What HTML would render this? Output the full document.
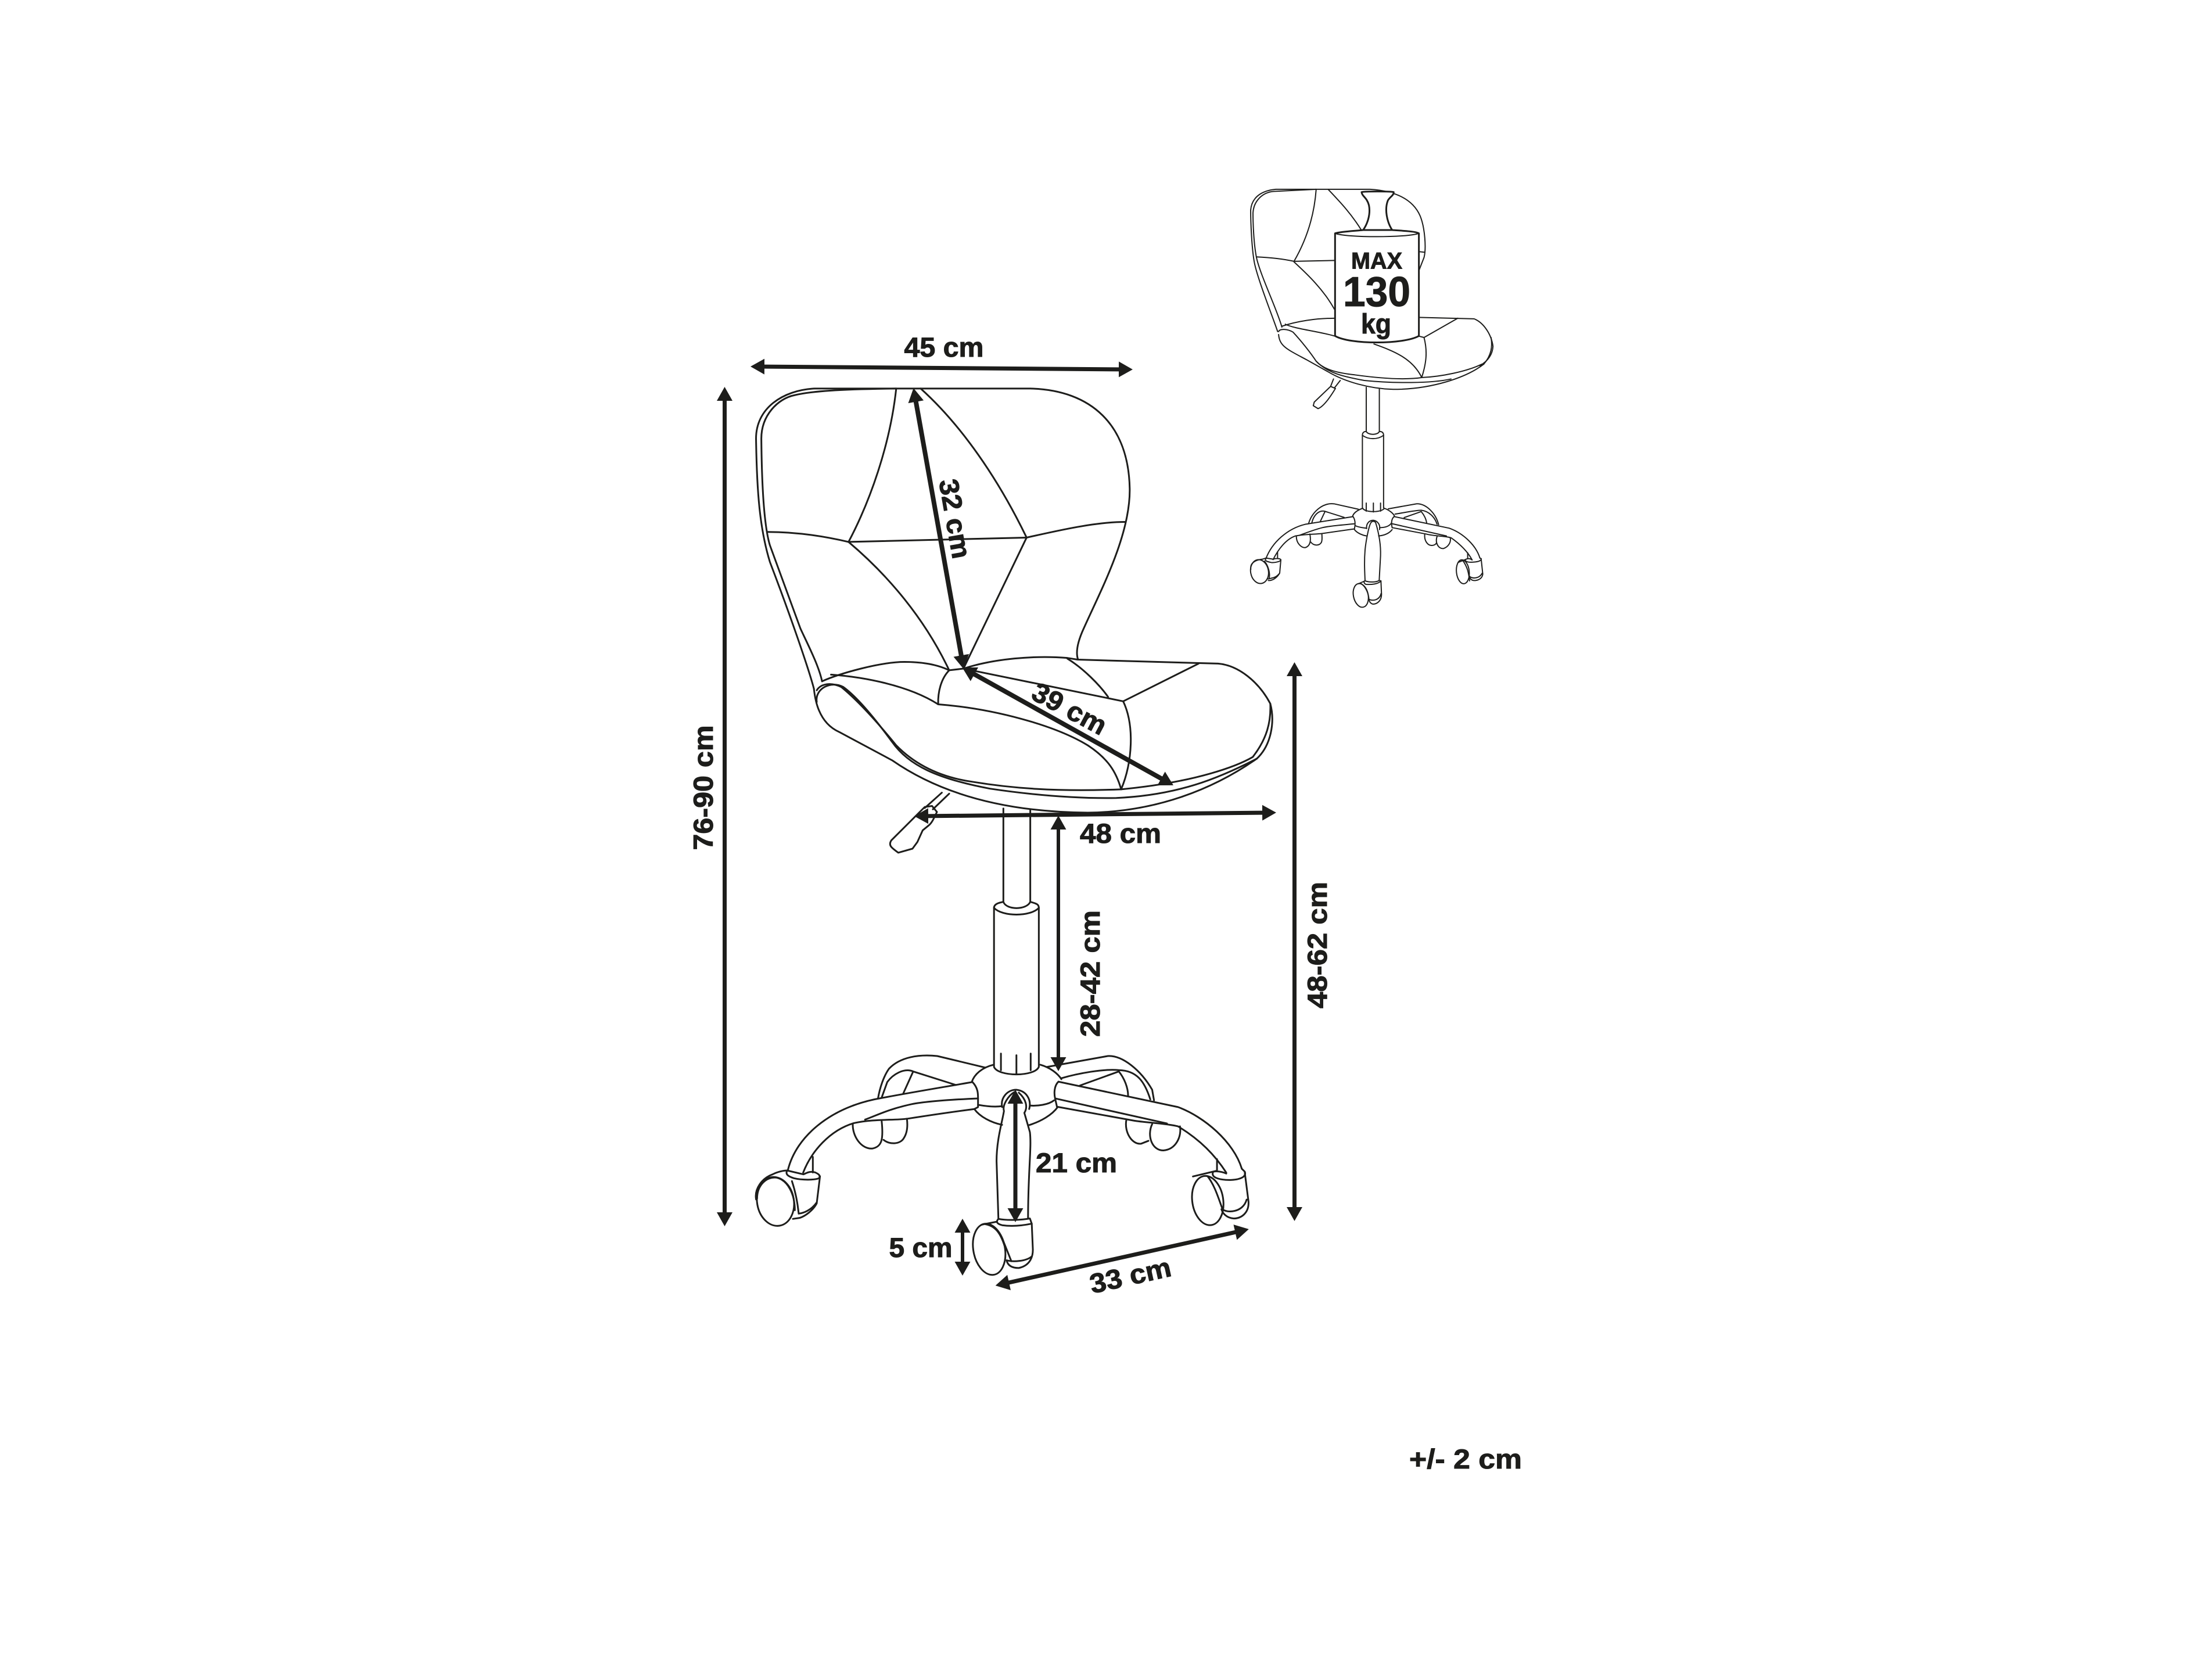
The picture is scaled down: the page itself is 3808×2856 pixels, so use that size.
<!DOCTYPE html>
<html><head><meta charset="utf-8"><style>
html,body{margin:0;padding:0;background:#fff}
svg{display:block}
.l *{fill:none;vector-effect:non-scaling-stroke;stroke-linecap:round;stroke-linejoin:round}
.t{font-family:"Liberation Sans",sans-serif;font-weight:700;fill:#1d1d1b;stroke:#1d1d1b;stroke-width:1;text-anchor:middle}
</style></head><body>
<svg width="3808" height="2856" viewBox="0 0 3808 2856" xmlns="http://www.w3.org/2000/svg">
<defs><marker id="a" markerUnits="userSpaceOnUse" markerWidth="32" markerHeight="32" viewBox="0 -16 32 32" refX="16" refY="0" orient="auto-start-reverse"><path d="M0,-13.5 L24,0 L0,13.5 Z" fill="#1d1d1b"/></marker></defs>
<rect width="3808" height="2856" fill="#fff"/>

<g class="l" stroke="#1d1d1b" stroke-width="3" transform="translate(1150 600) scale(.7015 .574)">
<path d="M358,1020 C345,960 300,800 250,640 C225,540 218,430 216,270 C216,180 280,125 360,120 L890,120 C1040,125 1130,230 1133,420 C1135,560 1060,730 1020,840 C1005,880 1000,910 1006,932"/>
<path d="M378,998 C370,950 340,880 325,840 L250,590 C235,530 230,400 229,270 C229,200 270,150 310,140 C350,128 420,122 560,120"/>
<path d="M560,120 C545,290 495,460 443,580"/>
<path d="M620,120 C720,230 810,390 880,567"/>
<path d="M443,580 L880,567"/>
<path d="M245,550 C310,550 380,562 443,580"/>
<path d="M880,567 C960,545 1050,520 1122,520"/>
<path d="M443,580 C540,680 630,810 690,965"/>
<path d="M880,567 L725,960 L690,965"/>
<path d="M378,998 C420,975 520,940 580,940 C630,940 665,950 690,965"/>
<path d="M725,960 C800,930 900,920 980,928 L1005,933 L1350,945 C1400,950 1450,1000 1478,1065 C1480,1120 1470,1170 1435,1225 C1400,1250 1300,1300 1112,1322 C950,1330 840,1318 750,1300 C660,1285 600,1240 560,1190 C520,1130 470,1060 425,1015 C400,1000 375,1005 365,1025"/>
<path d="M400,978 C480,985 590,1010 663,1067"/>
<path d="M690,965 C670,990 662,1030 663,1067"/>
<path d="M663,1067 C800,1080 950,1130 1030,1190 C1080,1230 1100,1270 1112,1322"/>
<path d="M725,960 L1117,1058"/>
<path d="M980,930 C1020,960 1060,1010 1080,1045"/>
<path d="M1117,1058 L1302,945"/>
<path d="M1117,1058 C1145,1130 1140,1240 1112,1322"/>
<path d="M358,1020 C360,1040 365,1120 420,1150 L550,1235 C650,1320 800,1390 1030,1392 C1200,1390 1340,1320 1445,1230"/>
<path d="M365,1060 C360,1020 400,995 430,1015 C470,1050 520,1130 550,1180 C590,1250 660,1290 790,1320 C900,1340 1000,1350 1100,1348 C1250,1340 1350,1290 1445,1230 C1480,1190 1490,1120 1478,1065"/>
<path d="M690,1335 L650,1382 M672,1332 L630,1378"/>
<path d="M630,1375 L548,1475 C540,1490 548,1497 565,1512 L600,1500 L612,1480 L625,1445 L640,1430 C650,1420 655,1400 660,1390 L648,1372 Z"/>
</g>

<g class="l" stroke="#1d1d1b" stroke-width="3" transform="translate(1150 1300) scale(.7015 .574)">
<path d="M823,160 L823,440 C830,465 880,465 889,440 L889,165"/>
<path d="M800,458 C800,445 815,442 823,440 M889,440 C905,445 910,448 910,458"/>
<path d="M800,458 C820,485 890,485 910,458"/>
<path d="M800,458 L800,935 C810,965 900,965 910,935 L910,458"/>
<path d="M817,895 L817,945 M855,900 L855,955 M890,895 L890,945"/>
</g>

<g class="l" stroke="#1d1d1b" stroke-width="3" transform="translate(1250 1750) scale(.6378 .3317)">
<path d="M722,250 C690,265 670,300 663,340 M848,250 C875,265 895,295 905,325"/>
<path d="M670,480 C685,520 715,550 745,562 M895,470 C880,510 850,545 815,565"/>
<path d="M680,458 C700,465 725,470 745,465 M820,462 C840,465 870,458 885,435"/>
<path d="M665,340 C560,375 480,400 400,430 C280,480 190,620 167,795"/>
<path d="M680,425 C620,430 540,440 500,455 C440,480 410,510 375,535"/>
<path d="M670,480 C610,495 540,515 490,530 C450,540 400,530 345,553 C280,590 230,700 208,810"/>
<path d="M665,340 C680,370 680,400 680,425 L680,470 L670,480"/>
<path d="M897,338 L1220,470 C1290,520 1370,650 1392,790"/>
<path d="M888,425 L1190,555"/>
<path d="M893,468 L1100,540 C1130,550 1190,555 1220,570 C1280,640 1320,720 1350,810"/>
<path d="M897,338 C885,360 885,400 888,425 L893,468"/>
<path d="M700,265 L570,205 C520,195 470,210 440,270 C425,310 415,370 410,425"/>
<path d="M620,355 L505,285 C480,265 450,300 435,340 L420,420 M505,285 L478,400"/>
<path d="M865,262 L1030,205 C1070,200 1120,280 1150,380 L1155,435"/>
<path d="M905,320 C950,295 1020,270 1060,278 C1110,280 1130,340 1145,430"/>
<path d="M955,358 L1060,285 C1075,320 1085,370 1085,410"/>
<path d="M342,555 C340,620 365,690 395,685 C420,675 425,640 420,545 M425,640 C440,665 470,665 480,630 C490,600 490,560 488,530"/>
<path d="M1080,540 C1075,600 1095,665 1120,660 L1140,645 M1150,558 C1135,620 1150,695 1180,695 C1215,690 1230,620 1225,570"/>
<path d="M745,470 C740,420 760,380 783,380 C810,385 825,430 818,480"/>
<path d="M778,392 C762,410 745,460 750,490 C745,550 730,640 730,750 L735,1050"/>
<path d="M790,395 C810,430 815,470 805,500 L820,600 C825,680 815,800 815,1048"/>
<path d="M735,1050 C728,1065 730,1075 745,1083 C770,1090 800,1085 825,1075 L820,1048 C800,1055 760,1060 735,1050"/>
<path d="M825,1075 L828,1210 C828,1260 815,1295 790,1305 C770,1305 760,1290 757,1265 C775,1275 810,1270 825,1245"/>
<ellipse cx="710" cy="1208" rx="43" ry="133" transform="rotate(-4 710 1208)"/>
<path d="M730,1065 L690,1080 M745,1150 L770,1270 M700,1078 C735,1090 745,1150 755,1210"/>
<ellipse cx="1300" cy="955" rx="42" ry="128" transform="rotate(-3 1300 955)"/>
<path d="M1400,810 L1410,960 C1412,1020 1390,1048 1370,1048 C1350,1045 1340,1020 1337,1000 M1340,1000 C1350,1020 1395,1020 1405,950"/>
<path d="M1315,805 C1305,840 1340,850 1365,848 C1390,845 1405,830 1400,805 L1392,790 M1315,805 C1330,800 1345,810 1350,815 M1300,830 C1320,880 1330,950 1340,1000 M1325,740 L1325,800 M1260,830 L1325,800"/>
</g>

<g class="l" stroke="#1d1d1b" stroke-width="3" transform="translate(1240 1950) scale(.3333)">
<ellipse cx="285" cy="355" rx="95" ry="127" transform="rotate(-10 285 355)"/>
<path d="M185,345 C175,290 215,235 270,215 C300,200 330,195 345,195"/>
<path d="M190,340 C190,270 240,225 290,232 C350,245 385,320 385,400"/>
<path d="M345,195 C335,215 350,225 380,235 C420,245 490,245 510,235 C520,220 505,212 490,205 C465,198 450,205 430,215 L345,195"/>
<path d="M515,225 L498,365 C480,400 440,430 410,440 L375,445 M405,418 C430,415 470,400 498,360 M370,250 C390,310 400,370 405,418 M478,125 L478,205"/>
</g>

<g class="l" stroke="#1d1d1b" stroke-width="2" transform="translate(2100 280) scale(.3316 .5102)">
<path d="M300,570 C280,530 200,400 180,340 C165,290 160,200 160,160 C165,120 210,95 290,90 L780,90 C900,95 1000,120 1040,180 C1065,220 1072,290 1060,320 L1030,370"/>
<path d="M322,555 C300,500 210,380 190,320 C175,270 172,200 172,170 C175,130 220,100 280,97 L500,90"/>
<path d="M500,90 C490,180 450,260 385,333 M562,90 C620,130 680,170 735,228 M385,333 L595,330 M190,318 C260,320 330,325 385,333 M385,335 C460,380 540,430 595,495 M1030,300 L1060,302"/>
<path d="M322,552 C400,535 500,525 595,525 M1030,522 L1320,527 C1370,540 1410,580 1418,620 C1415,650 1390,670 1350,685"/>
<path d="M1408,590 C1416,620 1410,650 1370,680"/>
<path d="M305,570 C310,560 350,560 380,572 C420,600 470,640 500,670 C540,700 620,710 700,716 C800,725 950,735 1050,725 C1150,722 1280,705 1360,680"/>
<path d="M305,580 C310,620 350,630 450,665 L560,705 C650,740 780,763 900,765 C1100,765 1280,725 1370,680"/>
<path d="M500,670 C560,710 640,722 750,735 C900,745 1100,745 1200,730"/>
<path d="M1235,525 L1060,590 C1080,640 1070,680 1048,725 M800,612 C900,635 1000,660 1048,725 M340,545 C380,560 520,570 595,585 M1030,585 L1060,590"/>
<path d="M625,735 L595,760 M590,730 L575,755 M575,755 L490,808 L485,820 L510,830 C530,825 560,805 600,762 Z"/>
<path d="M760,758 L760,907 C770,920 820,920 828,907 L828,762"/>
<path d="M740,920 C770,935 820,935 850,920 C850,910 840,907 828,907 M740,920 C740,910 750,907 760,907"/>
<path d="M740,920 L740,1165 M850,920 L850,1165"/>
</g>

<g class="l" stroke="#1d1d1b" stroke-width="2" transform="translate(2130 840) scale(.3333)">
<path d="M648,105 C660,128 745,128 760,105 M666,78 L666,120 M703,78 L703,124 M740,78 L740,120"/>
<path d="M648,105 C620,115 600,130 595,148 M760,105 C785,115 805,130 812,145"/>
<path d="M605,215 C620,235 650,245 668,248 M800,215 C785,235 760,245 730,248 M610,195 C630,205 650,205 668,208 M735,205 C760,205 785,200 797,180"/>
<path d="M598,148 L350,188 C260,210 180,280 148,365"/>
<path d="M607,185 C560,190 480,195 440,205 C400,215 360,230 320,245"/>
<path d="M602,212 L440,235 C400,240 350,238 300,248 C250,265 210,320 185,370"/>
<path d="M598,148 C610,165 610,190 605,212"/>
<path d="M810,148 L1095,208 C1170,235 1235,300 1253,362"/>
<path d="M800,185 L1080,248"/>
<path d="M800,205 L975,238 C1020,250 1080,248 1105,258 C1150,290 1190,330 1212,370"/>
<path d="M810,148 C795,160 795,185 800,205"/>
<path d="M625,110 L500,82 C440,75 385,125 368,185 M552,152 L450,120 C420,115 395,140 385,180 M453,122 L428,175"/>
<path d="M780,108 L925,82 C975,80 1025,130 1040,190 M815,135 C850,130 920,115 950,115 C990,120 1020,150 1032,188 M862,153 L950,122 C965,140 975,160 978,180"/>
<path d="M305,250 C305,285 330,310 352,308 C375,300 382,275 375,238 M380,280 C395,300 425,300 435,280 C440,265 437,250 437,238"/>
<path d="M968,240 C965,275 985,298 1005,297 C1015,297 1025,292 1028,285 M1032,250 C1020,285 1040,315 1065,313 C1090,305 1105,280 1100,258"/>
<path d="M668,210 C665,185 680,168 702,167 C725,170 740,190 735,215"/>
<path d="M690,180 C695,170 710,170 715,180 M690,180 C680,195 665,270 660,320 C655,380 658,430 660,480 M715,180 C730,230 742,290 740,350 L733,478"/>
<path d="M660,480 C650,480 655,495 665,498 C690,500 730,497 742,480 L733,478 C715,488 680,488 660,480"/>
<path d="M742,480 L745,550 C745,580 725,600 700,600 C685,595 682,585 680,575 C700,585 735,580 743,545"/>
<ellipse cx="638" cy="555" rx="38" ry="62" transform="rotate(-12 638 555)"/>
<path d="M625,495 L660,480 M640,495 C665,510 680,550 680,580"/>
<ellipse cx="115" cy="432" rx="46" ry="62" transform="rotate(-10 115 432)"/>
<path d="M70,420 C65,390 90,372 130,368 L148,362 M148,365 C140,375 150,380 175,385 C195,387 225,380 225,370 C220,365 205,362 185,368 L148,362 M225,372 L219,440 C205,465 180,480 160,478 M160,470 C180,465 200,465 219,440 M208,330 L208,365 M140,378 C160,400 170,440 165,465"/>
<ellipse cx="1165" cy="433" rx="33" ry="62" transform="rotate(-6 1165 433)"/>
<path d="M1260,370 L1268,445 C1265,470 1240,480 1220,478 C1205,475 1200,465 1198,455 C1210,470 1250,470 1265,440"/>
<path d="M1178,370 C1175,385 1205,385 1230,382 C1250,380 1260,375 1260,365 L1253,362 M1178,370 C1190,362 1205,365 1213,372 M1190,335 L1190,362 M1140,385 L1178,370 M1165,375 C1190,410 1195,440 1200,480"/>
</g>

<g transform="translate(2150 310) scale(.3333)" fill="#fff" stroke="#1d1d1b" stroke-linejoin="round">
<path stroke-width="9" d="M590,258 C610,230 630,180 620,130 C610,90 585,85 582,62 C585,58 745,58 748,62 C748,80 730,85 718,105 C700,150 712,215 740,258 Z"/>
<path stroke-width="9" d="M445,275 C480,265 560,262 590,258 L740,258 C800,262 860,265 878,275 L878,805 C800,850 520,850 445,805 Z"/>
<path stroke-width="6" fill="none" d="M445,275 C500,298 820,298 878,275"/>
</g>

<g stroke="#1d1d1b" stroke-width="7" fill="none">
<path d="M1300,631 L1942,636" marker-start="url(#a)" marker-end="url(#a)"/>
<path d="M1247.5,674 L1247.5,2103" marker-start="url(#a)" marker-end="url(#a)"/>
<path d="M1574,676 L1657.6,1144" stroke-width="8" marker-start="url(#a)" marker-end="url(#a)"/>
<path d="M1663.5,1153 L2013,1348" stroke-width="8" marker-start="url(#a)" marker-end="url(#a)"/>
<path d="M1582,1405 L2189,1399" marker-start="url(#a)" marker-end="url(#a)"/>
<path d="M1822,1412 L1822,1836" stroke-width="6" marker-start="url(#a)" marker-end="url(#a)"/>
<path d="M2228.5,1148 L2228.5,2094" marker-start="url(#a)" marker-end="url(#a)"/>
<path d="M1748,1884 L1748,2096" stroke-width="7" marker-start="url(#a)" marker-end="url(#a)"/>
<path d="M1657,2106 L1657,2188" stroke-width="6" marker-start="url(#a)" marker-end="url(#a)"/>
<path d="M1721.5,2211.4 L2142,2117.8" stroke-width="7" marker-start="url(#a)" marker-end="url(#a)"/>
</g>

<g class="t" font-size="47">
<text x="1625" y="614" textLength="137" lengthAdjust="spacingAndGlyphs">45 cm</text>
<text transform="translate(1644 893) rotate(80)" y="16" textLength="138" lengthAdjust="spacingAndGlyphs">32 cm</text>
<text transform="translate(1841 1220) rotate(28)" y="16" textLength="138" lengthAdjust="spacingAndGlyphs">39 cm</text>
<text x="1929" y="1451" textLength="140" lengthAdjust="spacingAndGlyphs">48 cm</text>
<text transform="translate(1227 1356) rotate(-90)" textLength="215" lengthAdjust="spacingAndGlyphs">76-90 cm</text>
<text transform="translate(1893 1676) rotate(-90)" textLength="218" lengthAdjust="spacingAndGlyphs">28-42 cm</text>
<text transform="translate(2284 1627) rotate(-90)" textLength="218" lengthAdjust="spacingAndGlyphs">48-62 cm</text>
<text x="1853" y="2018" textLength="140" lengthAdjust="spacingAndGlyphs">21 cm</text>
<text x="1585" y="2164" textLength="109" lengthAdjust="spacingAndGlyphs">5 cm</text>
<text transform="translate(1946 2196) rotate(-12.5)" y="16" textLength="142" lengthAdjust="spacingAndGlyphs">33 cm</text>
<text x="2523" y="2528" textLength="194" lengthAdjust="spacingAndGlyphs">+/- 2 cm</text>
<text x="2370" y="462.5" font-size="40" textLength="88" lengthAdjust="spacingAndGlyphs">MAX</text>
<text x="2370" y="527" font-size="72" textLength="116" lengthAdjust="spacingAndGlyphs">130</text>
<text x="2369" y="574" font-size="48" textLength="52" lengthAdjust="spacingAndGlyphs">kg</text>
</g>
</svg>
</body></html>
